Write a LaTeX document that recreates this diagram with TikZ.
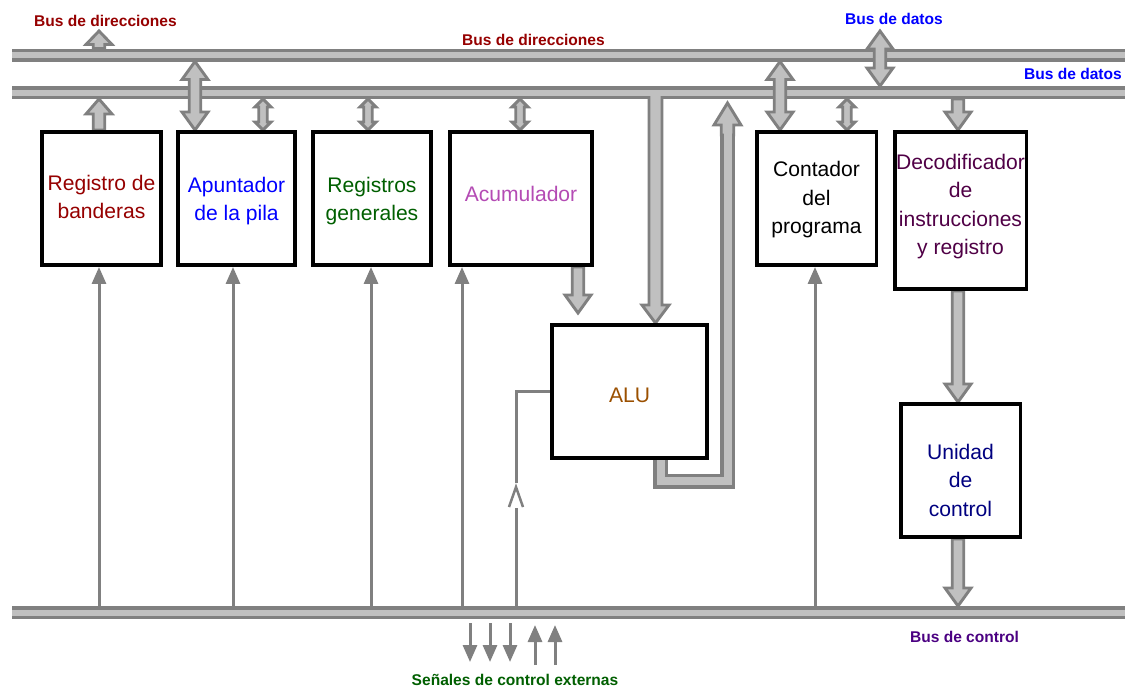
\documentclass[tikz,border=0pt]{standalone}
\usepackage{fontspec}
\setmainfont{Liberation Sans}
\usetikzlibrary{arrows.meta,calc,decorations.markings}
\pgfdeclarelayer{back}
\pgfsetlayers{back,main}

\definecolor{busdark}{RGB}{128,128,128}
\definecolor{buslight}{RGB}{192,192,192}
\definecolor{dirred}{RGB}{150,0,0}
\definecolor{datblue}{RGB}{0,0,255}
\definecolor{genGreen}{RGB}{0,95,0}
\definecolor{acuPink}{RGB}{180,75,180}
\definecolor{aluBrown}{RGB}{155,80,0}
\definecolor{decPurple}{RGB}{80,0,70}
\definecolor{ucNavy}{RGB}{0,0,128}
\definecolor{ctlIndigo}{RGB}{75,0,130}

% size of a fat (hollow) bus arrow: shaft half width, head half width, head length
\newcommand\fatsize[3]{\def\fsw{#1}\def\fhw{#2}\def\fhl{#3}}
% vertical fat arrow with one head at #2
\newcommand\fatone[2]{%
  \filldraw[fat] let \p1=#1, \p2=#2, \p3=($#2!\fhl!#1$) in
    (\x1-\fsw,\y1) -- (\x1-\fsw,\y3) -- (\x1-\fhw,\y3) -- (\x2,\y2)
    -- (\x1+\fhw,\y3) -- (\x1+\fsw,\y3) -- (\x1+\fsw,\y1) -- cycle;}
% vertical fat arrow with heads at both ends
\newcommand\fattwo[2]{%
  \filldraw[fat] let \p1=#1, \p2=#2, \p3=($#2!\fhl!#1$), \p4=($#1!\fhl!#2$) in
    (\x1,\y1) -- (\x1-\fhw,\y4) -- (\x1-\fsw,\y4) -- (\x1-\fsw,\y3)
    -- (\x1-\fhw,\y3) -- (\x2,\y2) -- (\x1+\fhw,\y3) -- (\x1+\fsw,\y3)
    -- (\x1+\fsw,\y4) -- (\x1+\fhw,\y4) -- cycle;}

\begin{document}
\begin{tikzpicture}[x=0.02cm,y=-0.02cm,
  busout/.style={draw=busdark,line width=0.26cm},
  busin/.style={draw=buslight,line width=0.12cm},
  fat/.style={fill=buslight,draw=busdark,line width=0.058cm,line join=miter},
  pipeout/.style={draw=busdark,line width=0.3cm,line join=miter},
  pipein/.style={draw=buslight,line width=0.16cm,line join=miter},
  box/.style={draw=black,line width=0.07cm,inner sep=0pt,minimum height=2.67cm},
  boxtext/.style={font=\fontsize{12pt}{16.2pt}\selectfont,align=center,inner sep=0pt},
  buslabel/.style={font=\fontsize{8.85pt}{10pt}\selectfont\bfseries,inner sep=0pt,anchor=base},
  sig/.style={draw=busdark,line width=0.06cm,-{Triangle[length=0.34cm,width=0.28cm]}},
  sigline/.style={draw=busdark,line width=0.06cm},
]
\useasboundingbox (0,0) rectangle (1125,687);

% ---------- blocks ----------
\node[box,minimum width=2.39cm] (reg1) at (101.5,198.5) {};
\node[boxtext,text=dirred] (reg1t) at ([yshift=0.03cm]reg1.center) {Registro de\\banderas};
\node[box,minimum width=2.35cm] (reg2) at (236.5,198.5) {};
\node[boxtext,text=datblue] (reg2t) at ([yshift=-0.05cm]reg2.center) {Apuntador\\de la pila};
\node[box,minimum width=2.37cm] (reg3) at (372,198.5) {};
\node[boxtext,text=genGreen] (reg3t) at ([yshift=-0.05cm]reg3.center) {Registros\\generales};
\node[box,minimum width=2.85cm] (acum) at (521,198.5) {};
\node[boxtext,text=acuPink] (acumt) at ([yshift=0.09cm]acum.center) {Acumulador};
\node[box,minimum width=3.11cm] (alu) at (629.5,391.5) {};
\node[boxtext,text=aluBrown] (alut) at ([yshift=-0.07cm]alu.center) {ALU};
\node[box,minimum width=2.39cm] (pc) at (816.5,198.5) {};
\node[boxtext,text=black] (pct) at ([yshift=-0.03cm]pc.center) {Contador\\del\\programa};
\node[box,minimum width=2.63cm,minimum height=3.15cm] (dec) at (960.5,210.5) {};
\node[boxtext,text=decPurple] (dect) at ([yshift=0.08cm]dec.center) {Decodificador\\de\\instrucciones\\y registro};
\node[box,minimum width=2.39cm] (uc) at (960.5,470.5) {};
\node[boxtext,text=ucNavy] (uct) at ([yshift=-0.19cm]uc.center) {Unidad\\de\\control};

% ---------- labels ----------
\node[buslabel,text=dirred] (lblA1) at (105.5,26) {Bus de direcciones};
\node[buslabel,text=dirred] (lblA2) at (533.5,45.5) {Bus de direcciones};
\node[buslabel,text=datblue] (lblD1) at (894,24) {Bus de datos};
\node[buslabel,text=datblue] (lblD2) at (1073,79) {Bus de datos};
\node[buslabel,text=ctlIndigo] (lblC) at (964.5,642) {Bus de control};
\node[buslabel,text=genGreen] (lblS) at (515,685) {Señales de control externas};

% bus axes and edges
\coordinate (abusW) at (12,55);    \coordinate (abusE) at (1125,55);
\coordinate (dbusW) at (12,92.5);  \coordinate (dbusE) at (1125,92.5);
\coordinate (cbusW) at (12,612.5); \coordinate (cbusE) at (1125,612.5);
\coordinate (abusT) at (0,48.5);   \coordinate (abusB) at (0,61.5);
\coordinate (dbusT) at (0,86);     \coordinate (dbusB) at (0,99);
\coordinate (cbusT) at (0,606);    \coordinate (cbusB) at (0,619);
% free ends
\coordinate (adrOut) at (99,31);
\coordinate (datOut) at (880,31);
\coordinate (aluIn) at (578,313);
\coordinate (loopTip) at (727.5,103);
\coordinate (sd1) at (470,662);
\coordinate (sd2) at (490,662);
\coordinate (sd3) at (510,662);
\coordinate (su1) at (535,665);
\coordinate (su2) at (555,665);

\begin{pgfonlayer}{back}
\fill[white] (0,0) rectangle (1125,687);

% bus outlines
\draw[busout] (abusW) -- (abusE);
\draw[busout] (dbusW) -- (dbusE);
\draw[busout] (cbusW) -- (cbusE);
% data bus branch into the ALU
\fatsize{0.13cm}{0.27cm}{0.36cm}
\fatone{(655.5,0 |- dbusW)}{(alu.north -| 655.5,0)}
% bus cores
\draw[busin] (abusW) -- (abusE);
\draw[busin] (dbusW) -- (dbusE);
\draw[busin] (cbusW) -- (cbusE);

% ALU result back to the data bus
\draw[pipeout] (alu.south -| 660.5,0) -- (660.5,481) -- (727.5,481) -- (727.5,128);
\fatsize{0.125cm}{0.27cm}{0.44cm}
\fatone{(727.5,135)}{(loopTip)}
\draw[pipein] (alu.south -| 660.5,0) -- (660.5,481) -- (727.5,481) -- (727.5,126);

% wide transfers
\fatsize{0.115cm}{0.26cm}{0.27cm}
\fatone{(99,0 |- abusT)}{(adrOut)}
\fatsize{0.115cm}{0.26cm}{0.3cm}
\fatone{(reg1.north -| 99,0)}{(99,0 |- dbusB)}
\fatsize{0.115cm}{0.26cm}{0.36cm}
\fattwo{(195,0 |- abusB)}{(reg2.north -| 195,0)}
\fattwo{(780,0 |- abusB)}{(pc.north -| 780,0)}
\fattwo{(datOut)}{(880,0 |- dbusT)}
\fatone{(958,0 |- dbusB)}{(dec.north -| 958,0)}
\fatone{(acum.south -| 578,0)}{(aluIn)}
\fatone{(dec.south -| 958,0)}{(uc.north -| 958,0)}
\fatone{(uc.south -| 958,0)}{(958,0 |- cbusT)}

% narrow transfers
\fatsize{0.085cm}{0.16cm}{0.16cm}
\fattwo{(263,0 |- dbusB)}{(reg2.north -| 263,0)}
\fattwo{(368,0 |- dbusB)}{(reg3.north -| 368,0)}
\fattwo{(520,0 |- dbusB)}{(acum.north -| 520,0)}
\fattwo{(847,0 |- dbusB)}{(pc.north -| 847,0)}

% control lines from the control bus
\draw[sig] (99,0 |- cbusT) -- (reg1.south -| 99,0);
\draw[sig] (233,0 |- cbusT) -- (reg2.south -| 233,0);
\draw[sig] (371,0 |- cbusT) -- (reg3.south -| 371,0);
\draw[sig] (462,0 |- cbusT) -- (acum.south -| 462,0);
\draw[sig] (815,0 |- cbusT) -- (pc.south -| 815,0);
\draw[sigline, postaction={decorate}, decoration={markings,
    mark=at position 2.18cm with {
      \fill[white] (-0.22cm,-0.07cm) rectangle (0.28cm,0.07cm);
      \draw[busdark,line width=0.05cm] (-0.2cm,0.14cm) -- (0.2cm,0) -- (-0.2cm,-0.14cm);}}]
  (516,0 |- cbusT) |- (alu.west);

% external control signals
\draw[sig,shorten <=0.08cm] (470,0 |- cbusB) -- (sd1);
\draw[sig,shorten <=0.08cm] (490,0 |- cbusB) -- (sd2);
\draw[sig,shorten <=0.08cm] (510,0 |- cbusB) -- (sd3);
\draw[sig,shorten >=0.12cm] (su1) -- (535,0 |- cbusB);
\draw[sig,shorten >=0.12cm] (su2) -- (555,0 |- cbusB);
\end{pgfonlayer}
\end{tikzpicture}
\end{document}
